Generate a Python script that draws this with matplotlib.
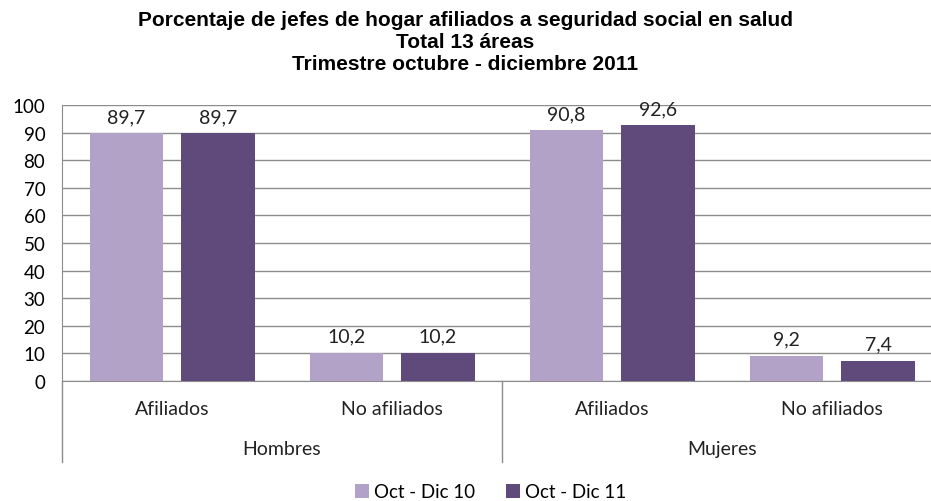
import matplotlib.pyplot as plt
import numpy as np

categories = ['Afiliados', 'No afiliados', 'Afiliados', 'No afiliados']
groups = ['Hombres', 'Mujeres']
oct_dic_10 = [89.7, 10.2, 90.8, 9.2]
oct_dic_11 = [89.7, 10.2, 92.6, 7.4]
series_names = ['Oct - Dic 10', 'Oct - Dic 11']
yticks = np.arange(0, 101, 10)

plt.rcParams['font.family'] = ['Lato', 'DejaVu Sans']

fig = plt.figure(figsize=(9.31, 5.02), dpi=100)
ax = fig.add_axes([62 / 931, 1 - 382 / 502, 880 / 931, 276 / 502])

x = np.arange(len(categories))
w = 0.332
c1, c2 = '#b3a2c7', '#604a7b'
b1 = ax.bar(x - 0.207, oct_dic_10, w, color=c1, label=series_names[0], zorder=3)
b2 = ax.bar(x + 0.209, oct_dic_11, w, color=c2, label=series_names[1], zorder=3)

for bars, vals in [(b1, oct_dic_10), (b2, oct_dic_11)]:
    for b, v in zip(bars, vals):
        ax.annotate(f'{v:.1f}'.replace('.', ','), (b.get_x() + b.get_width() / 2, v),
                    xytext=(0, 6), textcoords='offset points', ha='center', va='bottom',
                    fontsize=14, color='#222222')

ax.set_xlim(-0.5, 3.5)
ax.set_ylim(0, 100)
ax.set_yticks(yticks)
ax.set_yticklabels([str(t) for t in yticks], fontsize=13.5)
ax.set_xticks([])
ax.tick_params(axis='y', length=0, pad=12)
ax.grid(axis='y', color='#8c8c8c', lw=1, zorder=0)
for s in ['top', 'right']:
    ax.spines[s].set_visible(False)
for s in ['left', 'bottom']:
    ax.spines[s].set_color('#8c8c8c')

trans = ax.get_xaxis_transform()
for i, c in enumerate(categories):
    ax.text(i, -0.10, c, transform=trans, ha='center', va='center', fontsize=14, color='#222222')
for j, g in enumerate(groups):
    ax.text(2 * j + 0.5, -0.245, g, transform=trans, ha='center', va='center', fontsize=14, color='#222222')
for xv in [-0.5, 1.5, 3.5]:
    ax.plot([xv, xv], [0, -0.295], transform=trans, color='#8c8c8c', lw=1, clip_on=False)

fig.suptitle('Porcentaje de jefes de hogar afiliados a seguridad social en salud\n'
             'Total 13 áreas\nTrimestre octubre - diciembre 2011',
             y=0.978, fontsize=15, fontweight='bold', family='Liberation Sans', linespacing=1.2)

fig.legend(loc='center', bbox_to_anchor=(0.527, 0.018), ncol=2, frameon=False, fontsize=13.5,
           handlelength=0.75, handleheight=0.75, handletextpad=0.3, columnspacing=1.6)

fig.savefig('out.png', dpi=100)
